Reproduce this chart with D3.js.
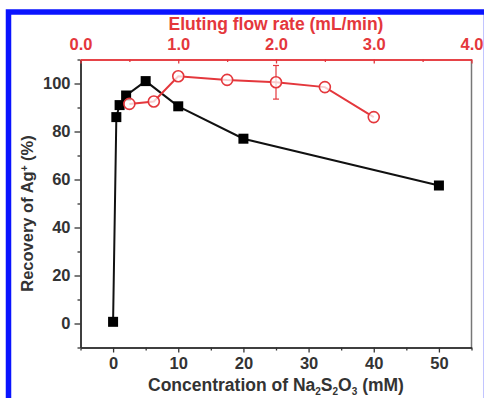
<!DOCTYPE html>
<html>
<head>
<meta charset="utf-8">
<script src="https://cdn.jsdelivr.net/npm/d3@7/dist/d3.min.js"></script>
<style>
  body { margin: 0; background: #fff; }
  svg { display: block; font-family: "Liberation Sans", Arial, sans-serif; }
</style>
</head>
<body>
<div id="chart"></div>
<script>
// ─── Data ───────────────────────────────────────────────────
// black squares: recovery vs Na2S2O3 concentration (bottom axis)
const concentration = [0, 0.5, 1, 2, 5, 10, 20, 50];
const recoveryConc = [0.7, 86, 91, 95, 101, 90.5, 77, 57.5];

// red circles: recovery vs eluting flow rate (top axis)
const flowRate = [0.5, 0.75, 1.0, 1.5, 2.0, 2.5, 3.0];
const recoveryFlow = [91.5, 92.5, 103, 101.5, 100.5, 98.5, 86];
const flowError = [0, 0, 0, 0, 7, 0, 0];

const bottomTicks = [0, 10, 20, 30, 40, 50];
const topTicks = [0, 1, 2, 3, 4];
const leftTicks = [0, 20, 40, 60, 80, 100];

// ─── Layout ─────────────────────────────────────────────────
const W = 484, H = 398;
const plot = { left: 80.5, right: 471.5, top: 59.5, bottom: 347.5 };
const RED = "#e4373c";
const AXIS = "#333";

const svg = d3.select("#chart").append("svg")
  .attr("width", W).attr("height", H);

// blue frame (bottom edge runs off the picture)
svg.append("rect")
  .attr("x", 8.5).attr("y", 12).attr("width", 478).attr("height", 400)
  .attr("fill", "#fff").attr("stroke", "#0a14ff").attr("stroke-width", 5.5);

const x = d3.scaleLinear().domain([-5, 55]).range([plot.left, plot.right]);
const xTop = d3.scaleLinear().domain([0, 4]).range([plot.left, plot.right]);
const y = d3.scaleLinear().domain([-10, 110]).range([plot.bottom, plot.top]);

// ─── Axes ───────────────────────────────────────────────────
// right frame line
svg.append("line")
  .attr("x1", plot.right).attr("x2", plot.right)
  .attr("y1", plot.top).attr("y2", plot.bottom)
  .attr("stroke", "#777").attr("stroke-width", 1.5);

function styleAxis(g, color, fontSize) {
  g.selectAll(".domain").attr("stroke", color).attr("stroke-width", 1.5);
  g.selectAll(".tick line").attr("stroke", color).attr("stroke-width", 1.3);
  g.selectAll(".tick text")
    .attr("fill", color).attr("font-weight", "bold")
    .attr("font-size", fontSize);
}

// bottom: minor ticks then major
svg.append("g")
  .attr("transform", `translate(0,${plot.bottom})`)
  .call(d3.axisBottom(x).tickValues(d3.range(-5, 56, 10)).tickSize(3).tickFormat("").tickSizeOuter(0))
  .call(g => styleAxis(g, AXIS, 16));
svg.append("g")
  .attr("transform", `translate(0,${plot.bottom})`)
  .call(d3.axisBottom(x).tickValues(bottomTicks).tickSize(5).tickPadding(5).tickSizeOuter(0))
  .call(g => styleAxis(g, AXIS, 16.5));

// left
svg.append("g")
  .attr("transform", `translate(${plot.left},0)`)
  .call(d3.axisLeft(y).tickValues(d3.range(-10, 111, 20)).tickSize(3).tickFormat("").tickSizeOuter(0))
  .call(g => styleAxis(g, AXIS, 16));
svg.append("g")
  .attr("transform", `translate(${plot.left},0)`)
  .call(d3.axisLeft(y).tickValues(leftTicks).tickSize(6).tickPadding(4).tickSizeOuter(0))
  .call(g => styleAxis(g, AXIS, 16.5));

// top (red, ticks pointing inward)
svg.append("g")
  .attr("transform", `translate(0,${plot.top})`)
  .call(d3.axisTop(xTop).tickValues(d3.range(0.5, 4, 1)).tickSize(-2.5).tickFormat("").tickSizeOuter(0))
  .call(g => styleAxis(g, RED, 16));
svg.append("g")
  .attr("transform", `translate(0,${plot.top})`)
  .call(d3.axisTop(xTop).tickValues(topTicks).tickSize(-4).tickPadding(10).tickFormat(d3.format(".1f")).tickSizeOuter(0))
  .call(g => styleAxis(g, RED, 16.5));

// ─── Axis titles ────────────────────────────────────────────
svg.append("text")
  .attr("x", 276).attr("y", 30)
  .attr("text-anchor", "middle")
  .attr("fill", RED).attr("font-weight", "bold").attr("font-size", 17.5)
  .text("Eluting flow rate (mL/min)");

const bt = svg.append("text")
  .attr("x", 276).attr("y", 391)
  .attr("text-anchor", "middle")
  .attr("fill", AXIS).attr("font-weight", "bold").attr("font-size", 17.5);
[["Concentration of Na", 0], ["2", 1], ["S", 0], ["2", 1], ["O", 0], ["3", 1], [" (mM)", 0]]
  .forEach(([t, sub]) => {
    const ts = bt.append("tspan").text(t);
    if (sub) ts.attr("font-size", 10).attr("baseline-shift", "-35%");
  });

const lt = svg.append("text")
  .attr("transform", `translate(33,${(plot.top + plot.bottom) / 2 + 10}) rotate(-90)`)
  .attr("text-anchor", "middle")
  .attr("fill", AXIS).attr("font-weight", "bold").attr("font-size", 16.5);
lt.append("tspan").text("Recovery of Ag");
lt.append("tspan").text("+").attr("font-size", 10).attr("baseline-shift", "super");
lt.append("tspan").text(" (%)");

// ─── Black series ───────────────────────────────────────────
const concData = concentration.map((c, i) => ({ x: c, y: recoveryConc[i] }));
svg.append("path")
  .datum(concData)
  .attr("fill", "none").attr("stroke", "#111").attr("stroke-width", 2)
  .attr("d", d3.line().x(d => x(d.x)).y(d => y(d.y)));
const sq = 10;
svg.selectAll("rect.sq").data(concData).enter().append("rect")
  .attr("class", "sq")
  .attr("x", d => x(d.x) - sq / 2).attr("y", d => y(d.y) - sq / 2)
  .attr("width", sq).attr("height", sq).attr("fill", "#000");

// ─── Red series ─────────────────────────────────────────────
const flowData = flowRate.map((f, i) => ({ x: f, y: recoveryFlow[i], e: flowError[i] }));
svg.append("path")
  .datum(flowData)
  .attr("fill", "none").attr("stroke", RED).attr("stroke-width", 2)
  .attr("d", d3.line().x(d => xTop(d.x)).y(d => y(d.y)));

const eb = svg.selectAll("g.err").data(flowData.filter(d => d.e > 0)).enter().append("g")
  .attr("stroke", RED).attr("stroke-width", 1.2);
eb.append("line")
  .attr("x1", d => xTop(d.x)).attr("x2", d => xTop(d.x))
  .attr("y1", d => y(d.y + d.e)).attr("y2", d => y(d.y - d.e));
eb.append("line")
  .attr("x1", d => xTop(d.x) - 3).attr("x2", d => xTop(d.x) + 3)
  .attr("y1", d => y(d.y + d.e)).attr("y2", d => y(d.y + d.e));
eb.append("line")
  .attr("x1", d => xTop(d.x) - 3).attr("x2", d => xTop(d.x) + 3)
  .attr("y1", d => y(d.y - d.e)).attr("y2", d => y(d.y - d.e));

svg.selectAll("circle.pt").data(flowData).enter().append("circle")
  .attr("class", "pt")
  .attr("cx", d => xTop(d.x)).attr("cy", d => y(d.y)).attr("r", 5.5)
  .attr("fill", "rgba(255,255,255,0.75)").attr("stroke", RED).attr("stroke-width", 1.6);
</script>
</body>
</html>
